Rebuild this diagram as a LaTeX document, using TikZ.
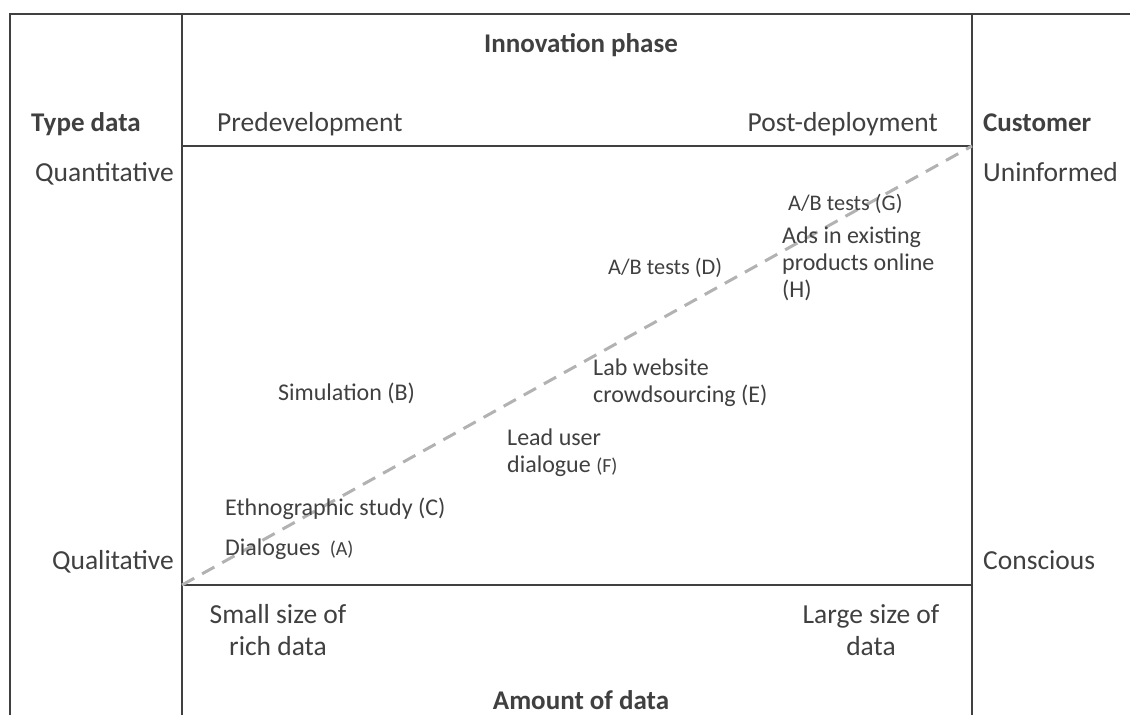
\documentclass[tikz,border=0pt]{standalone}
\usepackage{fontspec}
\setmainfont{Carlito}
\begin{document}
\begin{tikzpicture}[x=1pt,y=-1pt,
  frame/.style={draw=black!75, line width=2.2pt},
  diag/.style={draw=black!30, line width=3pt, dash pattern=on 14pt off 9pt},
  lbl/.style={inner sep=0pt, text=black!75, font=\fontsize{27.5}{32}\selectfont},
  hdr/.style={lbl, font=\fontsize{27}{32}\selectfont\bfseries},
  itm/.style={inner sep=0pt, text=black!75, font=\fontsize{24}{27}\selectfont},
  sitm/.style={inner sep=0pt, text=black!75, font=\fontsize{22.3}{27}\selectfont}]
\useasboundingbox (0,0) rectangle (1130,715);
% frame
\coordinate (tl) at (10,14);
\coordinate (tr) at (1130,14);
\coordinate (bl) at (10,715);
\coordinate (il) at (182,14);
\coordinate (ilb) at (182,715);
\coordinate (ir) at (972,14);
\coordinate (irb) at (972,715);
\coordinate (qtl) at (182,146);
\coordinate (qtr) at (972,146);
\coordinate (qbl) at (182,585);
\coordinate (qbr) at (972,585);
\draw[frame] (bl) -- (tl) -- (tr);
\draw[frame] (il) -- (ilb);
\draw[frame] (ir) -- (irb);
\draw[frame] (qtl) -- (qtr);
\draw[frame] (qbl) -- (qbr);
\draw[diag] (qbl) -- (qtr);
% headers
\node[hdr, anchor=base] (innov) at (581,52) {Innovation phase};
\node[hdr, anchor=base west] (type) at (31,131) {Type data};
\node[lbl, anchor=base west] (pre) at (217,131) {Predevelopment};
\node[lbl, anchor=base east] (post) at (938,131) {Post-deployment};
\node[hdr, anchor=base west] (cust) at (983,131) {Customer};
\node[lbl, anchor=base east] (quant) at (174,181) {Quantitative};
\node[lbl, anchor=base west] (unin) at (983,181) {Uninformed};
\node[lbl, anchor=base east] (qual) at (174,569) {Qualitative};
\node[lbl, anchor=base west] (cons) at (983,569) {Conscious};
\node[lbl, align=center, anchor=base] (small) at (278,655) {Small size of\\rich data};
\node[lbl, align=center, anchor=base] (large) at (871,655) {Large size of\\data};
\node[hdr, anchor=base] (amount) at (581,709) {Amount of data};
% items
\node[sitm, anchor=base west] (g) at (788,210) {A/B tests (G)};
\node[itm, anchor=base west, align=left] (h) at (782,297) {Ads in existing\\products online\\(H)};
\node[sitm, anchor=base west] (d) at (608,274) {A/B tests (D)};
\node[itm, anchor=base west, align=left] (e) at (593,402) {Lab website\\crowdsourcing (E)};
\node[itm, anchor=base west] (b) at (278,400) {Simulation (B)};
\node[itm, anchor=base west, align=left] (f) at (507,472) {Lead user\\dialogue {\fontsize{20}{27}\selectfont(F)}};
\node[itm, anchor=base west] (c) at (225,515) {Ethnographic study (C)};
\node[itm, anchor=base west] (a) at (225,555) {Dialogues\, {\fontsize{20}{27}\selectfont(A)}};
\end{tikzpicture}
\end{document}
